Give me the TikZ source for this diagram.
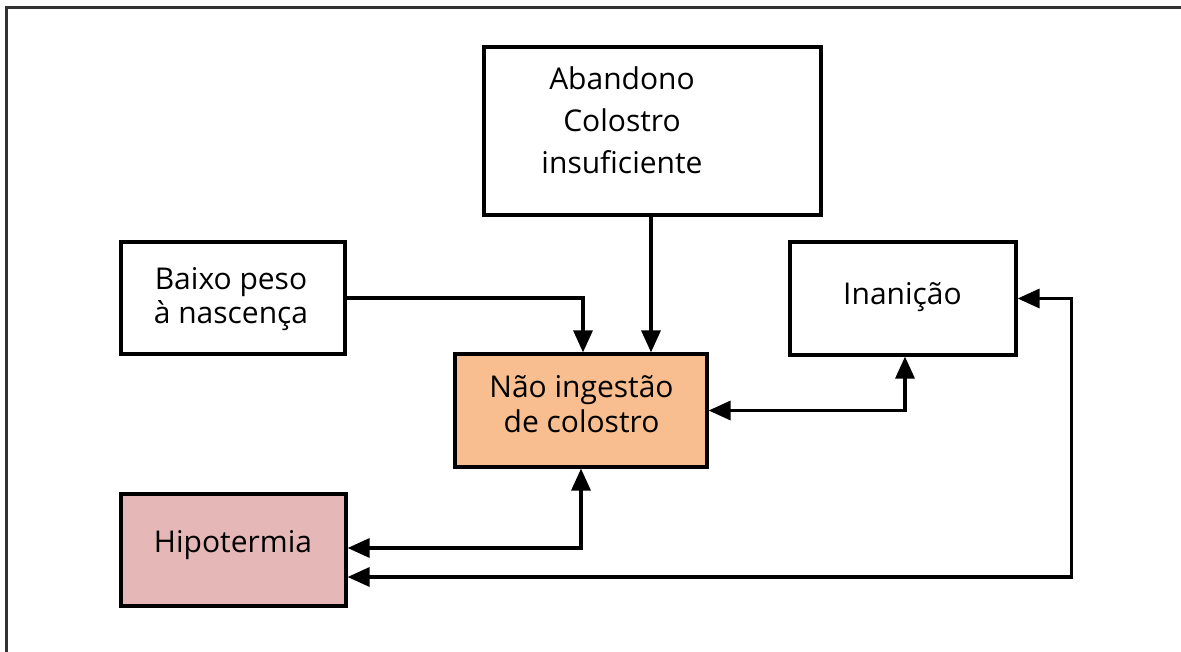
\documentclass[tikz,border=0pt]{standalone}
\usepackage{fontspec}
\setmainfont{Open Sans}
\usetikzlibrary{arrows.meta}
\definecolor{peach}{RGB}{248,190,143}
\definecolor{rose}{RGB}{229,184,183}
\definecolor{frame}{RGB}{50,50,50}
\tikzset{
  box/.style={draw=black, line width=3.2pt, rectangle, inner sep=0pt},
  txt/.style={align=center, inner sep=0pt, anchor=base},
  arr/.style={line width=3.4pt, -{Triangle[length=22pt,width=19pt]}},
  darr/.style={line width=3.4pt, {Triangle[length=22pt,width=19pt]}-{Triangle[length=22pt,width=19pt]}},
}
\begin{document}
\begin{tikzpicture}[x=1pt,y=-1pt]
\useasboundingbox (0,0) rectangle (1181,652);
\coordinate (fa) at (6,652);
\coordinate (fb) at (6,7.5);
\coordinate (fc) at (1181,7.5);
\draw[frame, line width=3pt] (fa) -- (fb) -- (fc);

\node[box, minimum width=337pt, minimum height=168pt] (top) at (652.5,131) {};
\node[box, minimum width=224pt, minimum height=112pt] (baixo) at (233,298) {};
\node[box, minimum width=226pt, minimum height=113pt] (inan) at (903,298.5) {};
\node[box, fill=peach, minimum width=252pt, minimum height=113pt] (centro) at (581,410.5) {};
\node[box, fill=rose, minimum width=225pt, minimum height=112pt] (hipo) at (233.5,550) {};

\node[txt, font=\fontsize{30}{42}\selectfont] (toptxt) at (622,174) {Abandono\\Colostro\\insuficiente};
\node[txt, font=\fontsize{30}{35}\selectfont] (baixotxt) at (231,324) {Baixo peso\\à nascença};
\node[txt, font=\fontsize{30}{35}\selectfont] (centrotxt) at (581.5,432) {Não ingestão\\de colostro};
\node[txt, font=\fontsize{30}{36}\selectfont] (inantxt) at (902.5,305) {Inanição};
\node[txt, font=\fontsize{30}{36}\selectfont] (hipotxt) at (233,552) {Hipotermia};

\draw[arr] (baixo.east) -| ([xshift=2pt]centro.north);
\draw[arr] ([xshift=-1.5pt]top.south) -- ([xshift=-1.5pt]top.south |- centro.north);
\draw[darr] (centro.east) -| ([xshift=2pt]inan.south);
\draw[darr] (centro.south) |- ([yshift=2pt]hipo.east);
\draw[darr] (inan.east) -- ++(54,0) |- ([yshift=-27pt]hipo.east);
\end{tikzpicture}
\end{document}
